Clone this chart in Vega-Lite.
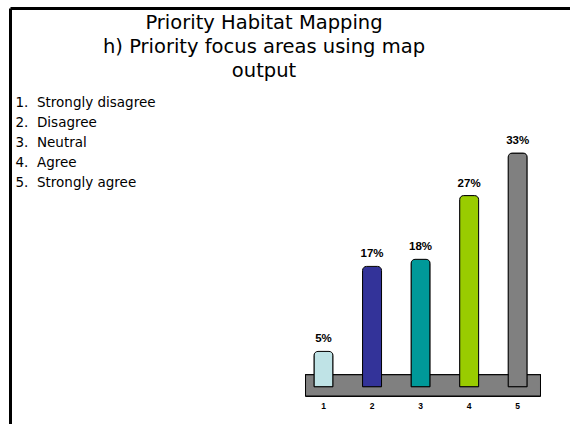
{
  "$schema": "https://vega.github.io/schema/vega-lite/v6.json",
  "width": 570,
  "height": 424,
  "autosize": {"type": "fit", "contains": "padding"},
  "padding": {"left": 10, "top": 8, "right": 0, "bottom": 0},
  "background": "white",
  "title": {
    "text": ["Priority Habitat Mapping", "h) Priority focus areas using map", "output"],
    "anchor": "middle",
    "frame": "group",
    "offset": -73,
    "dx": -26,
    "font": "DejaVu Sans",
    "fontSize": 19.5,
    "fontWeight": "normal",
    "lineHeight": 24,
    "color": "black"
  },
  "config": {
    "view": {"stroke": null},
    "axis": {"grid": false, "labels": false, "ticks": false, "title": null, "domain": true, "domainColor": "black", "domainWidth": 3}
  },
  "data": {
    "values": [
      {"code": 1, "answer": "Strongly disagree", "share": 0.05},
      {"code": 2, "answer": "Disagree", "share": 0.17},
      {"code": 3, "answer": "Neutral", "share": 0.18},
      {"code": 4, "answer": "Agree", "share": 0.27},
      {"code": 5, "answer": "Strongly agree", "share": 0.33}
    ]
  },
  "encoding": {
    "x": {"field": "code", "type": "quantitative", "scale": {"domain": [-5.355, 5.975], "nice": false, "zero": false}, "axis": {"orient": "top"}},
    "y": {"field": "share", "type": "quantitative", "scale": {"domain": [-0.0525, 0.5348], "nice": false, "zero": false}, "axis": {"orient": "left"}}
  },
  "layer": [
    {
      "mark": {"type": "rect", "fill": "#808080", "stroke": "black", "strokeWidth": 1},
      "encoding": {
        "x": {"datum": 0.63},
        "x2": {"datum": 5.47},
        "y": {"datum": -0.013},
        "y2": {"datum": 0.017}
      }
    },
    {
      "mark": {"type": "bar", "size": 19, "stroke": "black", "strokeWidth": 1, "cornerRadiusTopLeft": 4, "cornerRadiusTopRight": 4},
      "encoding": {
        "color": {
          "field": "answer",
          "type": "nominal",
          "scale": {
            "domain": ["Strongly disagree", "Disagree", "Neutral", "Agree", "Strongly agree"],
            "range": ["#bfe3e6", "#333399", "#009999", "#99cc00", "#808080"]
          },
          "legend": {
            "orient": "none",
            "legendX": -8,
            "legendY": 88,
            "title": null,
            "padding": 0,
            "symbolSize": 0,
            "symbolOpacity": 0,
            "symbolStrokeWidth": 0,
            "labelOffset": 0,
            "labelFont": "DejaVu Sans",
            "labelFontSize": 13.5,
            "labelColor": "black",
            "labelLimit": 400,
            "rowPadding": 5,
            "labelExpr": "(datum.index + 1) + '.\u00a0\u00a0' + datum.label"
          }
        }
      }
    },
    {
      "mark": {"type": "text", "baseline": "bottom", "dy": -7, "font": "Liberation Sans", "fontWeight": "bold", "fontSize": 11.5, "color": "black"},
      "encoding": {"text": {"field": "share", "type": "quantitative", "format": ".0%"}}
    },
    {
      "mark": {"type": "text", "baseline": "middle", "font": "Liberation Sans", "fontWeight": "bold", "fontSize": 8.5, "color": "black"},
      "encoding": {
        "y": {"datum": -0.027},
        "text": {"field": "code", "type": "quantitative"}
      }
    }
  ]
}
